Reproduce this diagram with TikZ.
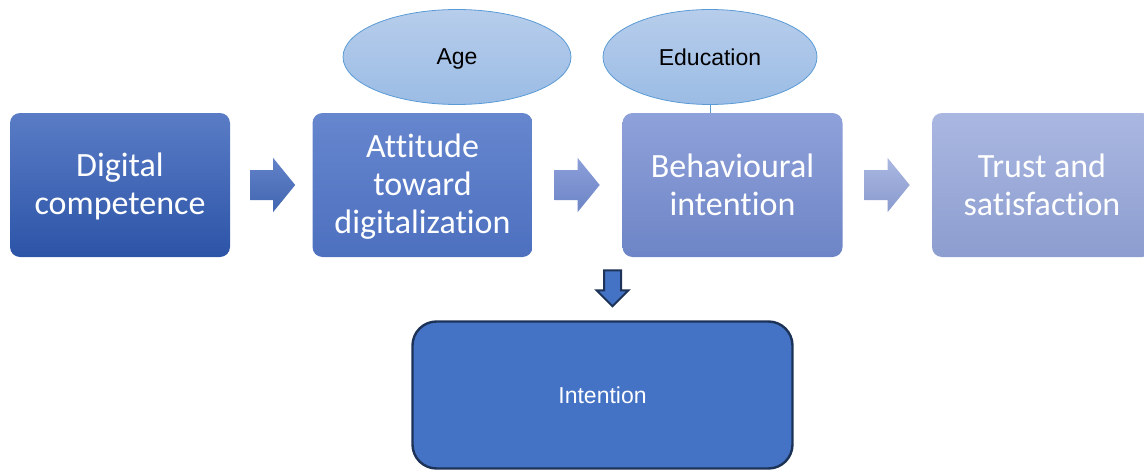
\documentclass[tikz,border=0pt]{standalone}
\usepackage{fontspec}
\setmainfont{Carlito}[Ligatures=NoCommon]
\newfontfamily\arialfont{Liberation Sans}
\usetikzlibrary{calc,shapes.geometric}
\definecolor{dcTop}{HTML}{5A7CC6}
\definecolor{dcBot}{HTML}{2C54A7}
\definecolor{atTop}{HTML}{6686CE}
\definecolor{atBot}{HTML}{4D70BF}
\definecolor{bhTop}{HTML}{8FA1DA}
\definecolor{bhBot}{HTML}{6D85C6}
\definecolor{trTop}{HTML}{AAB7E1}
\definecolor{trBot}{HTML}{8C9DCF}
\definecolor{ovTop}{HTML}{B7CDEB}
\definecolor{ovBot}{HTML}{9BBCE5}
\definecolor{ovLine}{HTML}{5B9BD5}
\definecolor{intFill}{HTML}{4472C4}
\definecolor{intLine}{HTML}{1C3257}
\tikzset{
  stagebox/.style={rectangle, rounded corners=10pt, minimum width=220pt,
    minimum height=144pt, inner sep=0pt, text=white, align=center,
    font=\fontsize{34}{38}\selectfont},
  factor/.style={ellipse, draw=ovLine, line width=0.8pt, top color=ovTop,
    bottom color=ovBot, minimum width=228pt, minimum height=95pt,
    inner sep=0pt, font=\arialfont\fontsize{23}{27}\selectfont},
  outcome/.style={rectangle, rounded corners=24pt, draw=intLine, line width=2.4pt,
    fill=intFill, minimum width=380pt, minimum height=147pt, inner sep=0pt,
    text=white, font=\arialfont\fontsize{23}{27}\selectfont},
  flowarrow/.style={draw=none},
  downarrow/.style={fill=intFill, draw=intLine, line width=2pt, line join=miter}
}
\begin{document}
\begin{tikzpicture}[x=1pt,y=-1pt]
  \useasboundingbox (0,0) rectangle (1144,471);

  % main stages
  \node[stagebox, top color=dcTop, bottom color=dcBot] (dc) at (120,185) {\strut Digital\\competence};
  \node[stagebox, top color=atTop, bottom color=atBot] (att) at (422.5,185) {\strut Attitude\\toward\\digitalization};
  \node[stagebox, top color=bhTop, bottom color=bhBot] (beh) at (732.5,185) {Behavioural\\intention};
  \node[stagebox, top color=trTop, bottom color=trBot] (tr) at (1042,185) {Trust and\\satisfaction};

  % moderating factors
  \node[factor, text depth=0pt] (age) at (457,57) {Age};
  \node[factor, minimum width=214pt] (edu) at (710,57) {Education};
  \draw[ovLine, line width=0.8pt] (edu.south) -- (edu.south |- beh.north);

  % block arrows between stages
  \shade[flowarrow, top color=dcTop!95!white, bottom color=dcBot!90!white]
    ($(dc.east)+(20,-15)$) -- ++(23,0) -- ++(0,-12) -- ++(22,27) -- ++(-22,27)
    -- ++(0,-12) -- ++(-23,0) -- cycle;
  \shade[flowarrow, top color=bhTop!90!atTop, bottom color=bhBot]
    ($(att.east)+(22,-15)$) -- ++(23,0) -- ++(0,-12) -- ++(22,27) -- ++(-22,27)
    -- ++(0,-12) -- ++(-23,0) -- cycle;
  \shade[flowarrow, top color=trTop, bottom color=trBot!90!bhBot]
    ($(beh.east)+(22,-15)$) -- ++(23,0) -- ++(0,-12) -- ++(22,27) -- ++(-22,27)
    -- ++(0,-12) -- ++(-23,0) -- cycle;

  % outcome
  \node[outcome] (int) at (602.5,395) {Intention};
  \draw[downarrow] ($(int.north)+(1.5,-50)$) -- ++(17,0) -- ++(0,20) -- ++(7.5,0)
    -- ++(-16,16) -- ++(-16,-16) -- ++(7.5,0) -- cycle;
\end{tikzpicture}
\end{document}
